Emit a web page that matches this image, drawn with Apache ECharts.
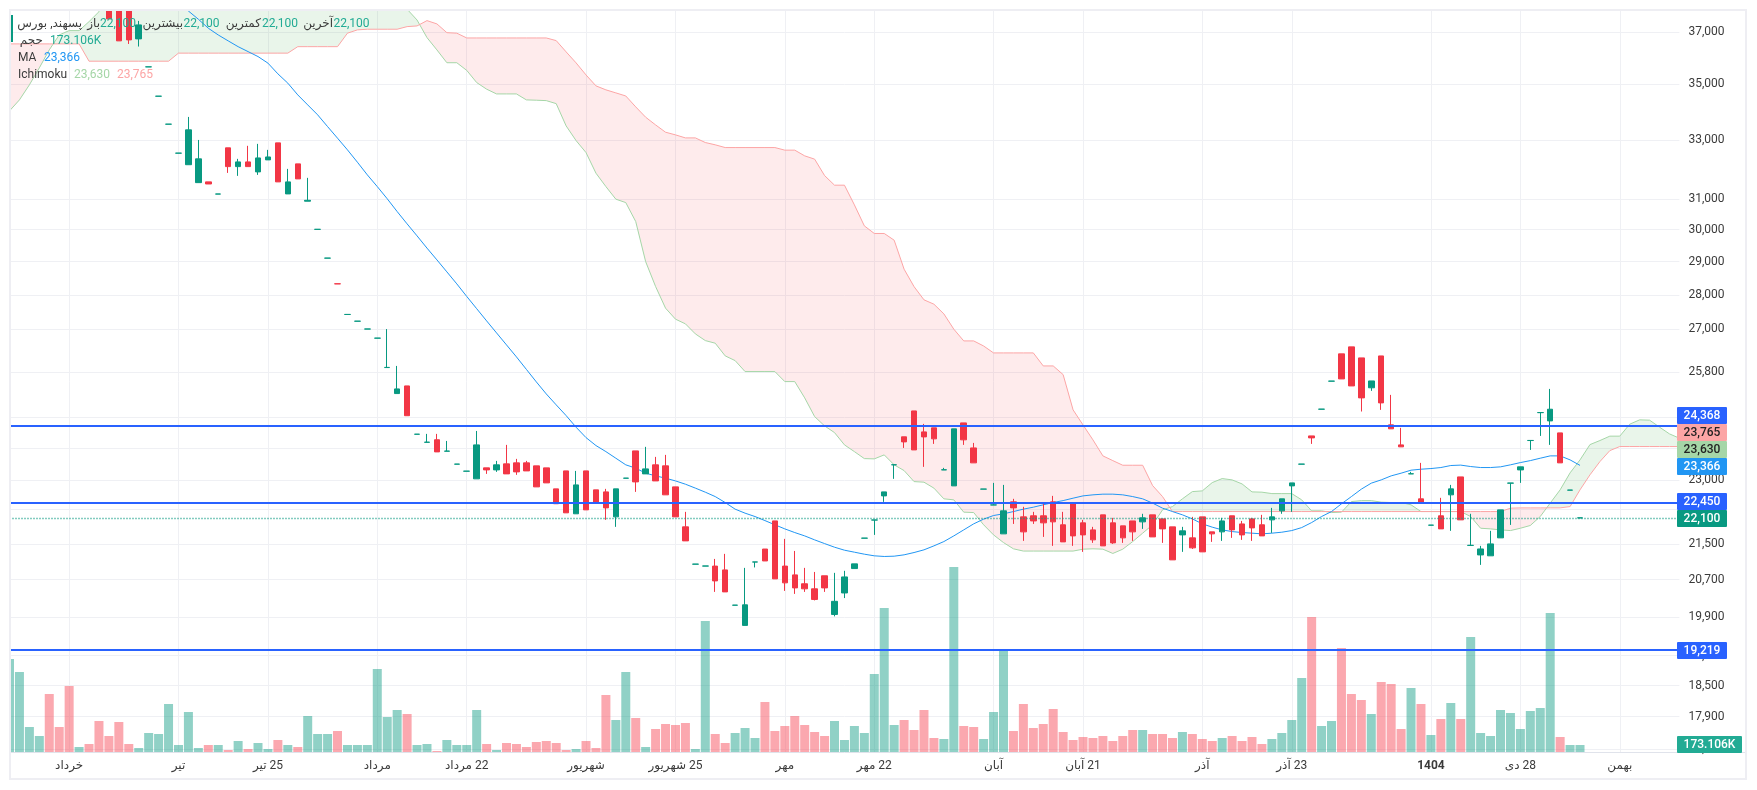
<!DOCTYPE html>
<html dir="rtl">
<head>
<meta charset="utf-8">
<title>پسهند</title>
<script src="https://cdn.jsdelivr.net/npm/echarts@6/dist/echarts.min.js"></script>
<style>
html, body { margin: 0; padding: 0; background: #fff; overflow: hidden; }
#main { width: 1757px; height: 790px; }
</style>
</head>
<body>
<div id="main"></div>
<script>
// قیمت ها: [open, close, low, high] - candles above the top of the chart are empty
var ohlc = [
  null, null, null, null, null, null, null, null, null, null,
  [38500,37513,37513,38500], [38200,36650,36650,38200], [38000,36687,36530,38000], [36727,37275,36430,37433], [35652,35655,35652,35655],
  [34560,34563,34560,34563], [33550,33553,33550,33553], [32535,32538,32535,32538], [32140,33350,32140,33810], [31535,32340,31535,32995],
  [31560,31490,31490,31560], [31155,31158,31155,31158], [32720,32075,31862,32720], [32075,32236,31762,32340], [32236,32075,32075,32790],
  [31896,32372,31795,32858], [32305,32405,32305,32650], [32893,31560,31560,32893], [31160,31560,31160,31998], [32168,31660,31660,32168],
  [30920,30950,30920,31695], [30010,30013,30010,30013], [29108,29111,29108,29111], [28328,28325,28325,28328], [27420,27423,27420,27423],
  [27225,27228,27225,27228], [27000,27003,27000,27003], [26740,26743,26740,26743], [25920,25925,25920,27000], [25215,25340,25215,25965],
  [25420,24630,24630,25420], [24150,24153,24150,24153], [23945,23950,23945,24160], [24010,23703,23703,24160], [23720,23725,23720,23980],
  [23396,23399,23396,23399], [23222,23225,23222,23225], [23035,23880,23035,24235], [23305,23255,23157,23305], [23255,23380,23206,23478],
  [23404,23157,23157,23880], [23429,23206,23133,23528], [23429,23230,23230,23478], [23355,22840,22840,23355], [23305,22937,22937,23305],
  [22792,22435,22435,22792], [23230,22220,22220,23230], [22197,22888,22197,23230], [23230,22290,22290,23230], [22768,22457,22457,22768],
  [22719,22337,22055,22792], [22125,22792,21892,22792], [23050,23053,23050,23053], [23728,22961,22719,23728], [23157,23280,23157,23830],
  [23380,22985,22985,23578], [23355,22648,22648,23628], [22840,22125,22125,22840], [21892,21569,21569,22243], [21042,21045,21042,21045],
  [21000,21003,21000,21003], [21000,20673,20433,21160], [20915,20433,20433,21274], [20146,20149,20146,20149], [19720,20155,19720,20960],
  [21090,21093,20970,21093], [21383,21115,21115,21383], [22030,20717,20717,22030], [21000,20630,20455,21615], [20805,20520,20390,21340],
  [20610,20500,20433,20960], [20500,20270,20250,20870], [20785,20520,20433,20785], [19950,20230,19910,20850], [20410,20760,20300,20895],
  [20945,21050,20945,21050], [21630,21633,21630,21633], [22050,22053,21706,22053], [22623,22719,22480,22719], [23380,23383,23035,23383],
  [24085,23956,23803,24085], [24755,23753,23753,24755], [24211,24083,23330,24417], [24315,24033,23905,24315], [23255,23258,23255,23305],
  [22864,24290,22864,24290], [24443,24008,23880,24443], [23803,23429,23429,23930], [22785,22788,22785,22788], [22405,22408,22405,22937],
  [21730,22267,21730,22888], [22480,22337,21960,22552], [22125,21776,21569,22362], [22150,22030,21960,22243], [22150,21985,21660,22433],
  [22480,22008,21455,22623], [21940,21546,21546,22243], [22433,21683,21455,22433], [21985,21706,21319,22055], [21822,21592,21523,21892],
  [22173,21455,21455,22173], [21985,21523,21500,22102], [21915,21638,21523,21915], [22030,21776,21569,22030], [22008,22102,21845,22197],
  [22173,21660,21660,22173], [22078,21845,21523,22078], [21892,21139,21139,21892], [21706,21800,21319,21892], [21638,21410,21385,22125],
  [22125,21319,21319,22125], [21776,21730,21546,21776], [21776,22030,21569,22102], [22150,21822,21638,22150], [21960,21706,21592,22030],
  [22078,21868,21569,22102], [21940,21683,21683,22173], [22055,22125,21753,22337], [22267,22552,22197,22552], [22864,22937,22243,22937],
  [23396,23399,23396,23399], [24108,24058,23905,24108], [24800,24803,24800,24803], [25548,25551,25548,25551], [26300,25610,25610,26300],
  [26495,25420,25420,26495], [26187,25100,24740,26187], [25370,25555,25287,25555], [26242,24967,24783,26242], [24392,24290,24290,25180],
  [23880,23830,23830,24315], [23157,23160,23157,23206], [22552,22457,22457,23429], [21930,21933,21930,21933], [22150,21845,21845,22576],
  [22648,22792,21800,22888], [23082,22055,22055,23082], [21465,21468,21465,22197], [21250,21385,21027,21455], [21230,21500,21230,21800],
  [21638,22290,21638,22290], [22930,22933,21937,22933], [23255,23330,22937,23330], [23990,23993,23753,23993], [24710,24713,24108,24713],
  [24495,24800,23880,25340], [24185,23429,23429,24185], [22760,22763,22760,22763], [22100,22103,22100,22103]
];
// حجم (K)
var volume = [
  2300,1978,618,396,1434,618,1632,124,198,767,
  396,742,198,99,470,445,1187,173,989,99,
  173,173,49,272,74,223,74,297,173,124,
  890,445,445,519,173,173,173,2053,866,1039,
  940,173,198,25,297,173,173,1039,198,49,
  223,198,124,247,272,223,49,74,272,99,
  1410,791,1978,841,124,569,692,668,717,74,
  3240,445,223,470,593,346,1236,519,643,890,
  668,495,396,767,297,643,470,1929,3561,668,
  791,544,1039,346,321,4575,643,618,321,989,
  2498,519,1187,593,692,1063,495,297,371,346,
  396,272,396,544,544,445,445,346,495,445,
  321,272,346,396,272,371,198,321,470,791,
  1830,3338,643,767,2572,1434,1286,940,1731,1682,
  569,1583,1187,420,816,1212,816,2844,470,396,
  1039,964,569,1014,1088,3437,371,173.106,173.106
];
var volumeUp = [
  1,1,1,1,0,0,0,1,0,0,
  0,0,0,1,1,1,1,1,1,1,
  0,1,0,1,0,1,1,0,1,0,
  1,1,1,0,1,1,1,1,1,1,
  0,1,1,0,1,1,1,1,0,1,
  0,0,0,0,0,0,0,1,0,0,
  0,1,1,0,1,0,0,0,0,1,
  1,0,0,1,1,1,0,0,0,0,
  0,0,0,1,1,1,1,1,1,1,
  0,0,0,0,1,1,0,0,1,1,
  1,0,0,0,0,0,0,0,0,0,
  0,0,0,0,1,0,0,0,1,0,
  0,0,1,0,0,0,0,1,1,1,
  1,0,1,1,0,0,0,1,0,0,
  0,1,0,1,0,1,0,1,1,1,
  1,1,1,1,1,1,0,1,1
];
var maValues = [
  null,null,null,null,null,null,null,null,null,null,
  null,null,null,null,null,null,null,38200,37829,37500,
  37145,36880,36650,36425,36235,36045,35795,35390,35043,34610,
  34245,33885,33465,33057,32650,32226,31795,31403,31000,30582,
  30186,29805,29420,29055,28688,28325,27950,27590,27235,26890,
  26550,26215,25870,25529,25206,24915,24633,24331,24065,23863,
  23710,23545,23380,23298,23174,23108,23052,22985,22905,22810,
  22712,22606,22464,22307,22212,22133,22038,21940,21845,21760,
  21683,21592,21507,21425,21357,21312,21267,21230,21215,21222,
  21252,21304,21365,21455,21553,21683,21822,21962,22072,22157,
  22197,22250,22307,22353,22410,22464,22510,22568,22623,22648,
  22664,22664,22648,22606,22552,22450,22330,22250,22173,22078,
  21962,21885,21822,21783,21760,21746,21730,21746,21768,21806,
  21875,21992,22133,22250,22433,22606,22785,22930,23010,23108,
  23174,23248,23272,23288,23313,23363,23373,23338,23313,23313,
  23330,23380,23436,23485,23545,23603,23603,23503,23366
];
var spanA = [
  34027,34427,34979,35615,36300,36880,37050,37050,37405,37800,
  39000,39000,39000,39000,39000,39000,39000,39000,39000,39000,
  39000,39000,39000,39000,39000,39000,39000,39000,39000,39000,
  39000,39000,39000,39000,39000,39000,39000,39000,39000,38400,
  37900,37470,36777,36300,35810,35810,35520,35065,34820,34645,
  34645,34645,34427,34415,34400,34290,33490,32972,32555,31852,
  31403,30987,30875,30260,29000,28245,27605,27285,27150,26862,
  26672,26598,26243,26112,25810,25810,25810,25810,25537,25537,
  25100,24607,24365,24193,23880,23710,23535,23528,23628,23380,
  23238,22968,22954,22810,22552,22528,22236,22226,21940,21706,
  21530,21388,21337,21337,21337,21337,21337,21337,21380,21388,
  21380,21283,21380,21553,21746,21940,22290,22368,22552,22726,
  22743,22944,23042,23010,22912,22719,22712,22678,22678,22678,
  22528,22267,22267,22226,22236,22487,22510,22510,22473,22464,
  22464,22410,22250,22250,22250,22250,22250,22133,21860,21845,
  21822,21806,21860,21924,22133,22450,22768,23182,23503,23887,
  23990,24102,24102,24410,24522,24514,24333,24160,24050
];
var spanB = [
  36533,36533,36533,36533,36533,36533,36533,36533,35868,35868,
  35868,35868,35868,35868,35868,35868,35868,36176,36176,36176,
  36176,36176,36176,36176,36176,36176,36176,36176,36176,36425,
  36425,36425,36425,36425,36950,37080,37105,37105,37105,37105,
  37208,37235,37445,37315,36970,36950,36763,36763,36763,36763,
  36763,36763,36763,36763,36763,36660,36224,35804,35350,34942,
  34795,34683,34570,34172,33800,33525,33267,33173,33067,33067,
  32905,32825,32730,32730,32730,32730,32730,32730,32640,32640,
  32443,32330,31772,31450,31450,30800,30122,29880,29880,29668,
  28770,28243,27850,27722,27438,26997,26663,26663,26520,26326,
  26326,26326,26326,26326,25965,25965,25727,24783,24390,24007,
  23603,23485,23370,23370,23370,22872,22606,22250,22250,22250,
  22250,22250,22250,22250,22250,22250,22250,22250,22250,22250,
  22250,22250,22250,22250,22250,22250,22250,22250,22250,22250,
  22250,22250,22250,22250,22250,22250,22250,22250,22250,22250,
  22250,22330,22337,22337,22337,22337,22337,22368,22768,23133,
  23460,23735,23838,23838,23838,23838,23838,23838,23838
];
var priceTicks = [37000,35000,33000,31000,30000,29000,28000,27000,25800,24600,23800,23000,22300,21500,20700,19900,19100,18500,17900,17300];
var timeSlots = [6,17,26,37,46,58,67,78,87,99,108,120,129,143,152,162];
var timeLabels = ['خرداد','تیر','25 تیر','مرداد','22 مرداد','شهریور','25 شهریور','مهر','22 مهر','آبان','21 آبان','آذر','23 آذر','1404','28 دی','بهمن'];
var blueLevels = [24368,22450,19219];
var lastPrice = 22100;
var lastVolume = '173.106K';
var maLast = 23366;
var spanALast = 23630;
var spanBLast = 23765;

var GREEN = '#089981', RED = '#f23645', TEXT = '#3b3b3b', GRID_COLOR = '#eff0f4';
var FONT = 'Roboto, "Noto Sans", "DejaVu Sans", sans-serif';
var PLOT_LEFT = 9.5, SLOT_W = 9.94, SLOT_COUNT = 169;
var PLOT_W = SLOT_W * (SLOT_COUNT - 1);

function fmt(v) {
    return Number(v).toLocaleString('en-US');
}

var categories = [];
for (var s = 0; s < SLOT_COUNT; s++) {
    categories.push(String(s));
}

//فیلد ابر ایچیموکو بین دو خط
function renderCloud(params, api) {
    var children = [];
    var top = [], bottom = [], sign = 0, prevA, prevB;
    function flush() {
        if (top.length > 1) {
            children.push({
                type: 'polygon',
                shape: { points: top.concat(bottom.slice().reverse()) },
                style: { fill: sign > 0 ? 'rgba(76,175,80,0.12)' : 'rgba(242,54,69,0.1)' }
            });
        }
    }
    for (var i = 0; i < SLOT_COUNT; i++) {
        var a = api.coord([i, spanA[i]]);
        var b = api.coord([i, spanB[i]]);
        var cur = a[1] < b[1] ? 1 : (a[1] > b[1] ? -1 : sign);
        if (sign && cur !== sign) {
            var d0 = prevA[1] - prevB[1], d1 = a[1] - b[1];
            var t = d0 / (d0 - d1);
            var cross = [prevA[0] + (a[0] - prevA[0]) * t, prevA[1] + (a[1] - prevA[1]) * t];
            top.push(cross);
            bottom.push(cross);
            flush();
            top = [cross];
            bottom = [cross];
        }
        sign = cur;
        top.push(a);
        bottom.push(b);
        prevA = a;
        prevB = b;
    }
    flush();
    return { type: 'group', children: children };
}

// متن های راهنما و برچسب قیمت
var Z = 100;
function text(x, y, str, color, align, weight) {
    return {
        type: 'text', z: Z + 1, silent: true, x: x, y: y,
        style: { text: str, fill: color, font: (weight || 'normal') + ' 12px ' + FONT, textAlign: align || 'left', textVerticalAlign: 'middle' }
    };
}
function box(x, y, w, h, color, r) {
    return { type: 'rect', z: Z, silent: true, shape: { x: x, y: y, width: w, height: h, r: r || 0 }, style: { fill: color } };
}
function tag(y, value, bg, fg) {
    return [box(1677, y, 50, 17, bg, 1), text(1702, y + 9, value, fg, 'center', 500)];
}

var elements = [
    box(0, 0, 1757, 9, '#fff'), box(0, 0, 9, 790, '#fff'),
    box(9, 9, 1738, 2, '#eeeef3'), box(9, 9, 2, 771, '#eeeef3'),
    box(1745, 9, 2, 771, '#eeeef3'), box(9, 778, 1738, 2, '#eeeef3'),
    box(1677, 752, 68, 1, '#e0e3eb'),
    box(11, 15, 2, 27, GREEN),
    text(82, 24, 'پسهند, بورس', TEXT, 'right'),
    text(100, 24, 'باز', TEXT, 'right'),
    text(100, 24, fmt(lastPrice), '#22ab94'),
    text(183, 24, 'بیشترین', TEXT, 'right'),
    text(183.5, 24, fmt(lastPrice), '#22ab94'),
    text(261, 24, 'کمترین', TEXT, 'right'),
    text(262, 24, fmt(lastPrice), '#22ab94'),
    text(333, 24, 'آخرین', TEXT, 'right'),
    text(333.5, 24, fmt(lastPrice), '#22ab94'),
    text(43, 41, 'حجم', TEXT, 'right'),
    text(50, 41, lastVolume, '#22ab94'),
    text(18, 58, 'MA', TEXT),
    text(44, 58, fmt(maLast), '#2196f3'),
    text(18, 75, 'Ichimoku', TEXT),
    text(74, 75, fmt(spanALast), '#a5d6a7'),
    text(117, 75, fmt(spanBLast), '#fca5a5')
];
elements = elements.concat(
    tag(407, fmt(blueLevels[0]), '#2962ff', '#fff'),
    tag(424, fmt(spanBLast), '#fca5a5', '#222'),
    tag(441, fmt(spanALast), '#a5d6a7', '#222'),
    tag(458, fmt(maLast), '#2196f3', '#fff'),
    tag(493, fmt(blueLevels[1]), '#2962ff', '#fff'),
    tag(510, fmt(lastPrice), GREEN, '#fff'),
    tag(642, fmt(blueLevels[2]), '#2962ff', '#fff'),
    [box(1677, 736, 65, 17, '#22ab94', 1), text(1709.5, 745, lastVolume, '#fff', 'center', 500)]
);

var option = {
    animation: false,
    backgroundColor: '#fff',
    textStyle: { fontFamily: FONT },
    grid: [
        { left: PLOT_LEFT, top: 11, width: PLOT_W, height: 741 },
        { left: PLOT_LEFT, top: 552, width: PLOT_W, height: 200 }
    ],
    xAxis: [
        {
            type: 'category', gridIndex: 0, data: categories, boundaryGap: false,
            axisLine: { lineStyle: { color: '#e0e3eb' } },
            axisTick: { show: false },
            axisLabel: {
                color: TEXT, fontSize: 12, margin: 8, hideOverlap: false,
                interval: function (i) { return timeSlots.indexOf(i) >= 0; },
                formatter: function (v) {
                    var l = timeLabels[timeSlots.indexOf(Number(v))];
                    return l === '1404' ? '{b|' + l + '}' : l;
                },
                rich: { b: { fontWeight: 'bold', fontSize: 12, color: TEXT } }
            },
            splitLine: {
                show: true,
                interval: function (i) { return timeSlots.indexOf(i) >= 0; },
                lineStyle: { color: GRID_COLOR }
            }
        },
        {
            type: 'category', gridIndex: 1, data: categories, boundaryGap: false,
            axisLine: { show: false }, axisTick: { show: false }, axisLabel: { show: false }, splitLine: { show: false }
        }
    ],
    yAxis: [
        {
            type: 'log', gridIndex: 0, position: 'right', min: 17243, max: 37829,
            axisLine: { show: false },
            axisTick: { show: false, customValues: priceTicks },
            axisLabel: { color: TEXT, fontSize: 12, margin: 9, padding: [2, 0, 0, 0], customValues: priceTicks, formatter: fmt },
            splitLine: { show: true, lineStyle: { color: GRID_COLOR } }
        },
        {
            type: 'value', gridIndex: 1, min: 0, max: 4946, show: false, splitLine: { show: false }
        }
    ],
    series: [
        {
            name: 'cloud', type: 'custom', xAxisIndex: 0, yAxisIndex: 0, z: 1, clip: true, silent: true,
            renderItem: renderCloud, data: [[84, 30000]], encode: { x: 0, y: 1 }
        },
        {
            name: 'spanA', type: 'line', xAxisIndex: 0, yAxisIndex: 0, z: 2, symbol: 'none', silent: true,
            data: spanA, lineStyle: { color: '#a5d6a7', width: 1 }
        },
        {
            name: 'spanB', type: 'line', xAxisIndex: 0, yAxisIndex: 0, z: 2, symbol: 'none', silent: true,
            data: spanB, lineStyle: { color: '#fca5a5', width: 1 }
        },
        {
            name: 'MA', type: 'line', xAxisIndex: 0, yAxisIndex: 0, z: 3, symbol: 'none', silent: true,
            data: maValues.map(function (v) { return v === null ? '-' : v; }),
            lineStyle: { color: '#2196f3', width: 1 }
        },
        {
            name: 'price', type: 'candlestick', xAxisIndex: 0, yAxisIndex: 0, z: 4, barWidth: 6, silent: true,
            data: ohlc.map(function (c) { return c || ['-', '-', '-', '-']; }),
            itemStyle: { color: GREEN, color0: RED, borderColor: GREEN, borderColor0: RED, borderWidth: 1 }
        },
        {
            name: 'volume', type: 'bar', xAxisIndex: 1, yAxisIndex: 1, z: 3, barWidth: 9, silent: true,
            data: volume.map(function (v, i) {
                return { value: v, itemStyle: { color: volumeUp[i] ? 'rgba(8,153,129,0.45)' : 'rgba(247,82,95,0.5)' } };
            })
        },
        {
            name: 'levels', type: 'line', xAxisIndex: 0, yAxisIndex: 0, z: 5, data: [], silent: true,
            markLine: {
                silent: true, symbol: 'none', animation: false, label: { show: false },
                data: blueLevels.map(function (v) {
                    return { yAxis: v, lineStyle: { color: '#2962ff', width: 2, type: 'solid' } };
                }).concat([{ yAxis: lastPrice, lineStyle: { color: GREEN, width: 1.4, type: [1, 2] } }])
            }
        }
    ],
    graphic: { elements: elements }
};

var chart = echarts.init(document.getElementById('main'), null, { renderer: 'canvas' });
chart.setOption(option);
</script>
</body>
</html>
